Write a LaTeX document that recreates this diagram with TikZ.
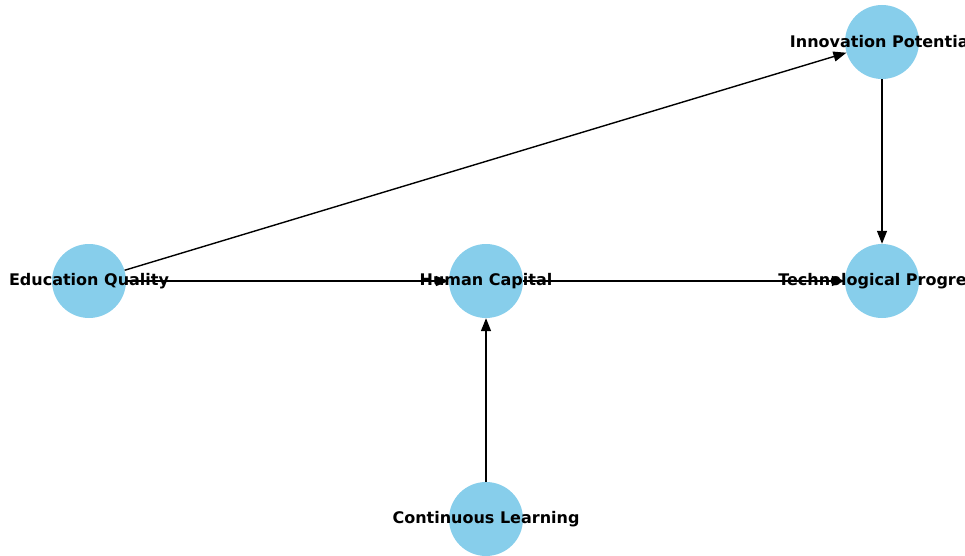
\documentclass[tikz,border=0pt]{standalone}
\usepackage{fontspec}
\setmainfont{DejaVu Sans}
\usetikzlibrary{arrows.meta}
\definecolor{skyblue}{HTML}{87CEEB}
\tikzset{
  vertex/.style={circle, fill=skyblue, draw=none, minimum size=74pt, inner sep=0pt},
  vlabel/.style={font=\fontsize{16}{18}\selectfont\bfseries, text=black, inner sep=0pt},
  link/.style={draw=black, line width=1.4pt, -{Triangle[length=13pt,width=10pt]}}
}
\begin{document}
\begin{tikzpicture}[x=1pt,y=-1pt]
  \useasboundingbox (0,0) rectangle (965,556);
  \clip (0,0) rectangle (965,556);
  % circles
  \node[vertex] (edu) at (89,281) {};
  \node[vertex] (hum) at (486,281) {};
  \node[vertex] (tech) at (882,281) {};
  \node[vertex] (inno) at (882,42) {};
  \node[vertex] (cont) at (486,519) {};
  % labels
  \node[vlabel] (edut) at (edu) {Education Quality};
  \node[vlabel] (humt) at (hum) {Human Capital};
  \node[vlabel] (techt) at (tech) {Technological Progress};
  \node[vlabel] (innot) at (inno) {Innovation Potential};
  \node[vlabel] (contt) at (cont) {Continuous Learning};
  % edges
  \draw[link] (edu) -- (hum);
  \draw[link] (edu) -- (inno);
  \draw[link] (hum) -- (tech);
  \draw[link] (inno) -- (tech);
  \draw[link] (cont) -- (hum);
\end{tikzpicture}
\end{document}
